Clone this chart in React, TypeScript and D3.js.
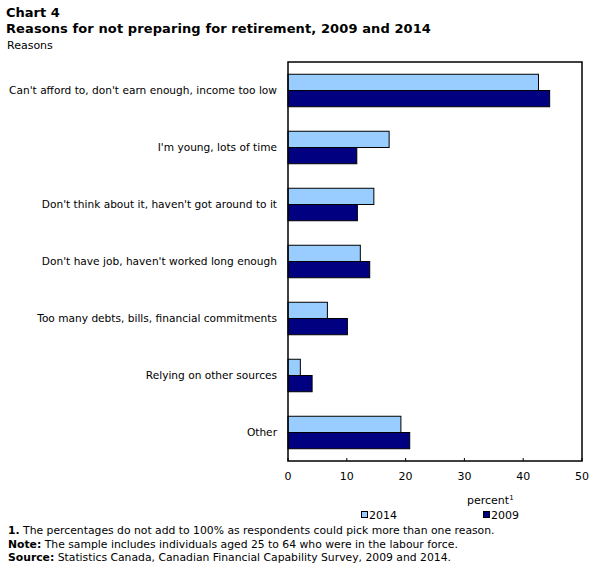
import * as d3 from "d3";
import React, { useEffect, useRef } from "react";

// categories, top to bottom
const REASONS = [
  "Can't afford to, don't earn enough, income too low",
  "I'm young, lots of time",
  "Don't think about it, haven't got around to it",
  "Don't have job, haven't worked long enough",
  "Too many debts, bills, financial commitments",
  "Relying on other sources",
  "Other",
];

const SERIES = ["2014", "2009"];
const VALUES_2014 = [42.6, 17.2, 14.6, 12.3, 6.7, 2.1, 19.2];
const VALUES_2009 = [44.5, 11.7, 11.8, 13.9, 10.1, 4.1, 20.7];
const X_TICKS = [0, 10, 20, 30, 40, 50];

const COLORS: Record<string, string> = { "2014": "#99CCFF", "2009": "#000080" };
const FONT = "Verdana, 'DejaVu Sans', sans-serif";

const W = 606;
const H = 568;

export default function App() {
  const svgRef = useRef<SVGSVGElement | null>(null);

  useEffect(() => {
    document.body.style.margin = "0";
    const svg = d3.select(svgRef.current);
    svg.selectAll("*").remove();

    const plot = { left: 288, right: 582, top: 62, bottom: 461 };

    const x = d3.scaleLinear().domain([0, 50]).range([plot.left, plot.right]);
    const y = d3.scaleBand<string>()
      .domain(REASONS)
      .range([plot.top, plot.bottom])
      .paddingInner(0.43)
      .paddingOuter(0.215);
    const inner = d3.scaleBand<string>().domain(SERIES).range([0, y.bandwidth()]);

    const rows = REASONS.map((r, i) => ({ reason: r, v2014: VALUES_2014[i], v2009: VALUES_2009[i] }));

    // titles
    svg.append("text").attr("x", 6).attr("y", 17)
      .attr("font-family", FONT).attr("font-weight", "bold").attr("font-size", 13)
      .text("Chart 4");
    svg.append("text").attr("x", 6).attr("y", 33)
      .attr("font-family", FONT).attr("font-weight", "bold").attr("font-size", 13)
      .attr("letter-spacing", 0.1)
      .text("Reasons for not preparing for retirement, 2009 and 2014");
    svg.append("text").attr("x", 7).attr("y", 49)
      .attr("font-family", FONT).attr("font-size", 11)
      .text("Reasons");

    // bars
    const groups = svg.append("g")
      .selectAll("g")
      .data(rows)
      .join("g")
      .attr("transform", d => `translate(0,${y(d.reason)})`);

    groups.selectAll("rect")
      .data(d => SERIES.map(s => ({ s, v: s === "2014" ? d.v2014 : d.v2009 })))
      .join("rect")
      .attr("x", x(0))
      .attr("y", d => inner(d.s) ?? 0)
      .attr("width", d => x(d.v) - x(0))
      .attr("height", inner.bandwidth())
      .attr("fill", d => COLORS[d.s])
      .attr("stroke", "#000")
      .attr("stroke-width", 1);

    // category labels
    svg.append("g")
      .selectAll("text")
      .data(REASONS)
      .join("text")
      .attr("x", plot.left - 11)
      .attr("y", r => (y(r) ?? 0) + y.bandwidth() / 2)
      .attr("dy", "0.3em")
      .attr("text-anchor", "end")
      .attr("font-family", FONT)
      .attr("font-size", 10.6)
      .text(r => r);

    // frame
    svg.append("rect")
      .attr("x", plot.left).attr("y", plot.top)
      .attr("width", plot.right - plot.left)
      .attr("height", plot.bottom - plot.top)
      .attr("fill", "none").attr("stroke", "#000").attr("stroke-width", 1.5);

    // x ticks (inward) and labels
    svg.append("g")
      .selectAll("line")
      .data(X_TICKS)
      .join("line")
      .attr("x1", d => x(d)).attr("x2", d => x(d))
      .attr("y1", plot.bottom - 3).attr("y2", plot.bottom)
      .attr("stroke", "#000");

    svg.append("g")
      .selectAll("text")
      .data(X_TICKS)
      .join("text")
      .attr("x", d => x(d))
      .attr("y", plot.bottom + 19)
      .attr("text-anchor", "middle")
      .attr("font-family", FONT)
      .attr("font-size", 11)
      .text(d => d);

    const unit = svg.append("text")
      .attr("x", 467).attr("y", 504)
      .attr("font-family", FONT).attr("font-size", 11)
      .text("percent");
    unit.append("tspan").attr("font-size", 7).attr("dy", -4).text("1");

    // legend
    const legendX = [361, 483];
    const lg = svg.append("g")
      .selectAll("g")
      .data(SERIES)
      .join("g")
      .attr("transform", (_, i) => `translate(${legendX[i]},515)`);
    lg.append("rect")
      .attr("x", 0.5).attr("y", -3.5).attr("width", 6).attr("height", 6)
      .attr("fill", s => COLORS[s]).attr("stroke", "#000").attr("stroke-width", 1);
    lg.append("text")
      .attr("x", 8).attr("y", 4)
      .attr("font-family", FONT).attr("font-size", 11)
      .text(s => s);

    // notes
    const notes = [
      { b: "1.", t: " The percentages do not add to 100% as respondents could pick more than one reason." },
      { b: "Note:", t: " The sample includes individuals aged 25 to 64 who were in the labour force." },
      { b: "Source:", t: " Statistics Canada, Canadian Financial Capability Survey, 2009 and 2014." },
    ];
    const nt = svg.append("g")
      .selectAll("text")
      .data(notes)
      .join("text")
      .attr("x", 8)
      .attr("y", (_, i) => 534 + i * 13.5)
      .attr("font-family", FONT)
      .attr("font-size", 10.8);
    nt.append("tspan").attr("font-weight", "bold").text(d => d.b);
    nt.append("tspan").text(d => d.t);
  }, []);

  return <svg ref={svgRef} width={W} height={H} style={{ display: "block", background: "#fff" }} />;
}
